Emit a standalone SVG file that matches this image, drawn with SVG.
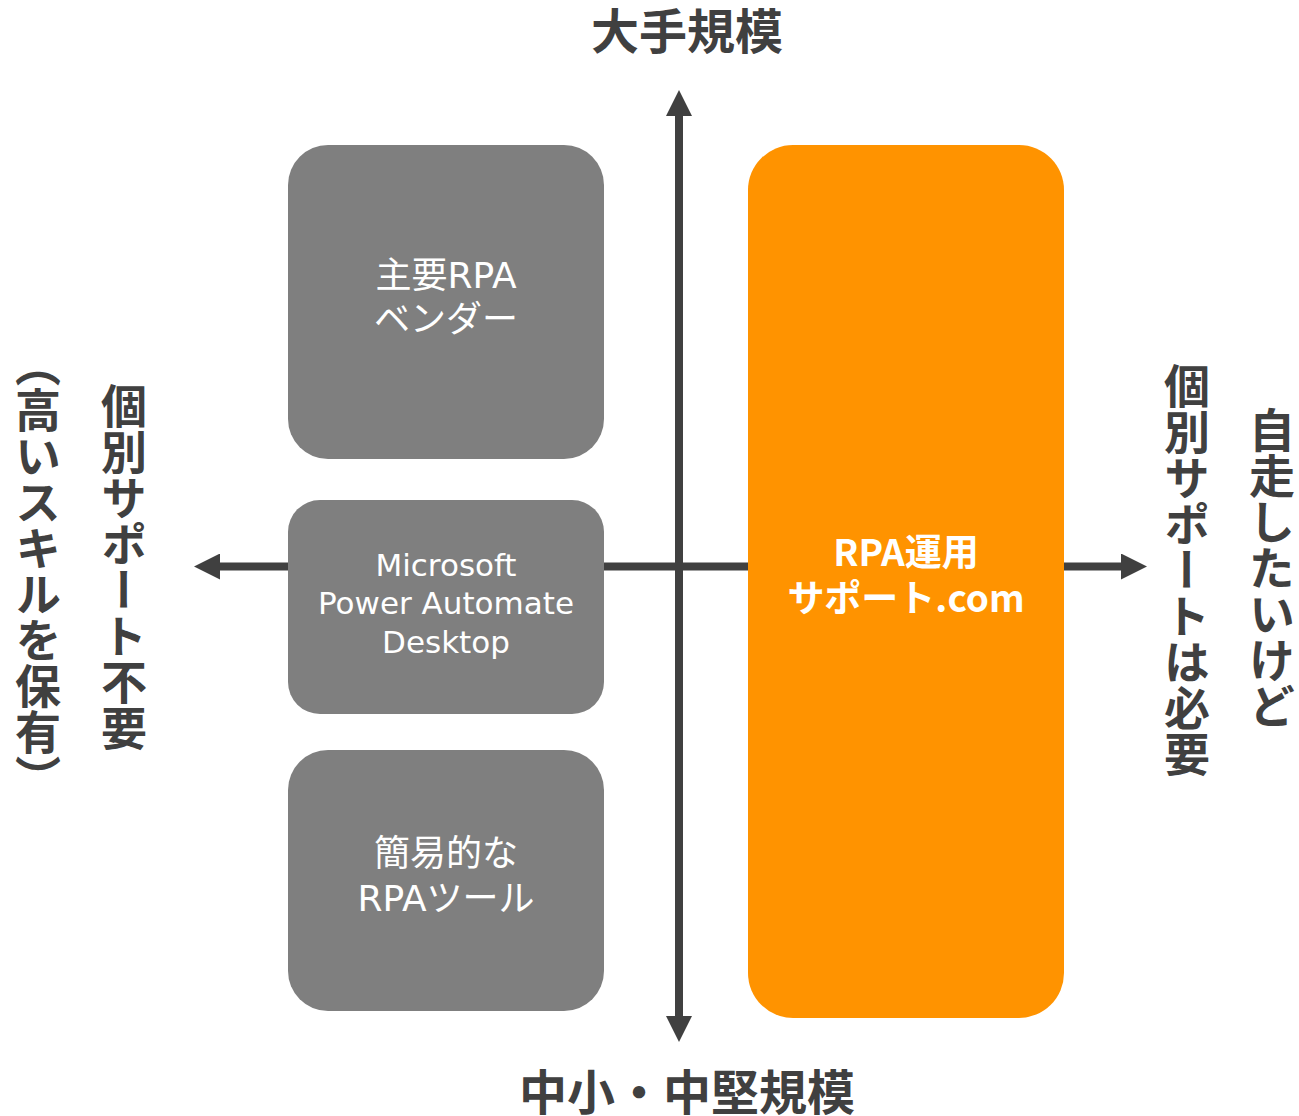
<svg xmlns="http://www.w3.org/2000/svg" width="1299" height="1116" viewBox="0 0 1299 1116">
<style>
.axis{stroke:#404040;stroke-width:8;fill:none}
.gray{fill:#7f7f7f}
.orange{fill:#ff9300}
.lbl{font-family:"Noto Sans CJK JP",sans-serif;font-weight:bold;fill:#404040}
.vt{font-family:"Noto Sans CJK JP",sans-serif;font-weight:bold;fill:#404040;writing-mode:vertical-rl;font-size:46px}
.bt{font-family:"DejaVu Sans","Noto Sans CJK JP",sans-serif;fill:#ffffff;text-anchor:middle}
.ob{font-family:"Noto Sans CJK JP",sans-serif;font-weight:bold;fill:#ffffff;text-anchor:middle;font-size:37px}
</style>
<defs>
<marker id="ah" viewBox="0 0 26 26" refX="2" refY="13" markerWidth="26" markerHeight="26" markerUnits="userSpaceOnUse" orient="auto">
<path d="M0,0 L26,13 L0,26 Z" fill="#404040"/>
</marker>
</defs>
<rect width="1299" height="1116" fill="#ffffff"/>
<g id="connectors">
<line class="axis" x1="679" y1="1010" x2="679" y2="114" marker-end="url(#ah)"/>
<line class="axis" x1="679" y1="120" x2="679" y2="1018" marker-end="url(#ah)"/>
<line class="axis" x1="679" y1="566.5" x2="218" y2="566.5" marker-end="url(#ah)"/>
<line class="axis" x1="679" y1="566.5" x2="1123" y2="566.5" marker-end="url(#ah)"/>
</g>
<g id="node-major">
<rect class="gray" x="288" y="145" width="316" height="314" rx="40"/>
<text class="bt" x="446" y="288" font-size="36">主要RPA</text>
<text class="bt" x="446" y="332" font-size="36">ベンダー</text>
</g>
<g id="node-pad">
<rect class="gray" x="288" y="500" width="316" height="214" rx="32"/>
<text class="bt" x="446" y="576" font-size="31">Microsoft</text>
<text class="bt" x="446" y="614" font-size="31">Power Automate</text>
<text class="bt" x="446" y="653" font-size="31">Desktop</text>
</g>
<g id="node-simple">
<rect class="gray" x="288" y="750" width="316" height="261" rx="40"/>
<text class="bt" x="446" y="866" font-size="36">簡易的な</text>
<text class="bt" x="446" y="911" font-size="36">RPAツール</text>
</g>
<g id="node-rpa">
<rect class="orange" x="748" y="145" width="316" height="873" rx="45"/>
<text class="ob" x="906" y="566">RPA運用</text>
<text class="ob" x="906" y="612">サポート.com</text>
</g>
<g id="labels">
<text class="lbl" x="687" y="49" font-size="48" text-anchor="middle">大手規模</text>
<text class="lbl" x="687" y="1110" font-size="48" text-anchor="middle">中小・中堅規模</text>
<text class="vt" x="124" y="567" text-anchor="middle">個別サポート不要</text>
<text class="vt" x="38" y="571" text-anchor="middle">（高いスキルを保有）</text>
<text class="vt" x="1187" y="570" text-anchor="middle">個別サポートは必要</text>
<text class="vt" x="1272" y="568" text-anchor="middle">自走したいけど</text>
</g>
</svg>
